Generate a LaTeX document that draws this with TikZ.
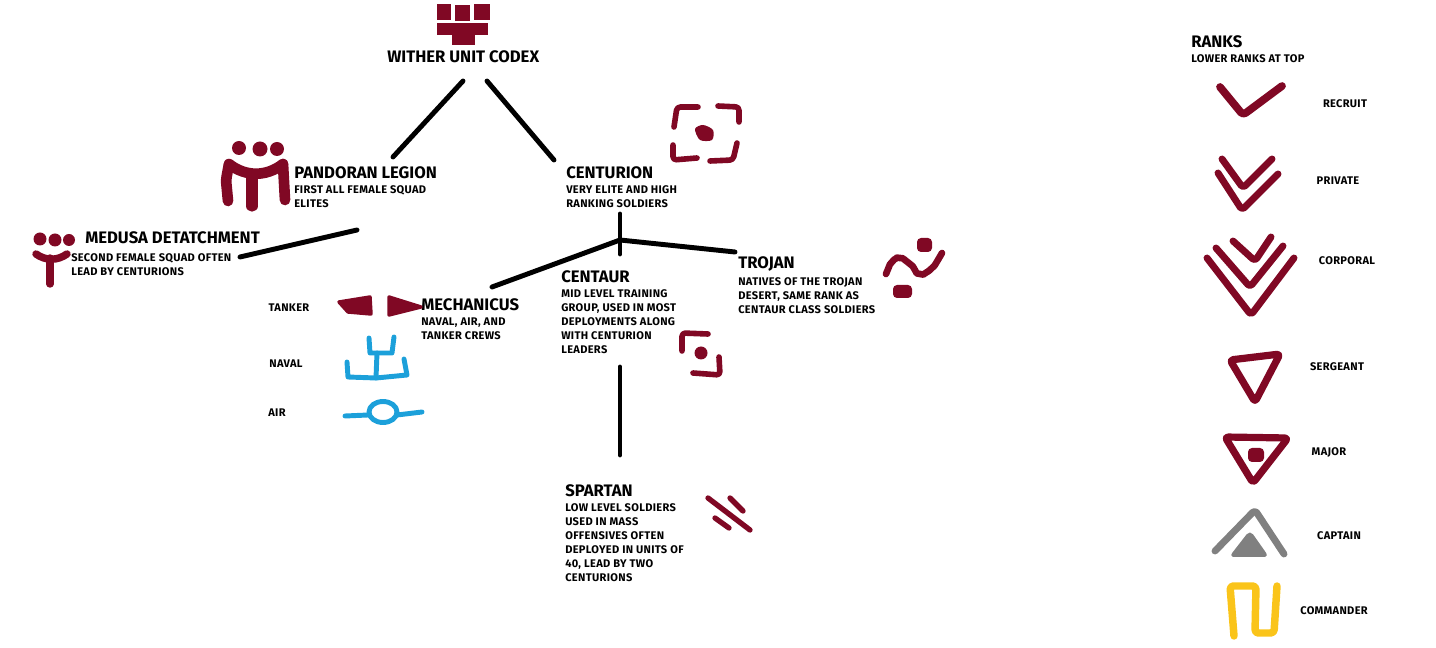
\documentclass[tikz,border=0pt]{standalone}
\usepackage{fontspec}
\setmainfont{Fira Sans}
\newfontfamily\smallfont[LetterSpace=3.0]{Fira Sans}
\usepackage{tikz}
\usetikzlibrary{positioning,calc}
\definecolor{WitherRed}{RGB}{128,8,36}
\definecolor{CrewBlue}{RGB}{28,160,218}
\definecolor{CaptainGray}{RGB}{128,128,128}
\definecolor{CommanderGold}{RGB}{250,196,26}
\tikzset{
	head/.style={inner sep=0pt,anchor=west,yshift=-0.75pt,font=\bfseries\fontsize{12.5}{15}\selectfont},
	desc/.style={inner sep=0pt,align=left,font=\smallfont\bfseries\fontsize{8.3}{10.5}\selectfont},
	rank/.style={inner sep=0pt,yshift=-0.75pt,font=\smallfont\bfseries\fontsize{8.3}{10.5}\selectfont},
	link/.style={draw=black,line width=3.7pt,line cap=round},
	mark/.style={draw=WitherRed,line width=#1,line cap=round,line join=round,rounded corners=2.5pt},
	mark/.default=3.6pt,
	crew/.style={draw=CrewBlue,line width=3.7pt,line cap=round,line join=round},
	blob/.style={fill=WitherRed,draw=WitherRed,line join=round,line width=2.6pt},
}
\begin{document}
\begin{tikzpicture}[x=0.75pt,y=-0.75pt]
	\useasboundingbox (0,0) rectangle (1436,648);
	\foreach \a/\b/\c/\d in {437/4/451/20,455/5/470/21,474/4/490/20,437/23/488/35,452/35/475/45}
	\fill[WitherRed] (\a,\b) rectangle (\c,\d);
	\node[head] (codex) at (387,56) {WITHER UNIT CODEX};
	\node[head] (pandoran) at (294,172) {PANDORAN LEGION};
	\node[desc,below=4.6pt of pandoran.south west,anchor=north west] (pandorantext) {FIRST ALL FEMALE SQUAD\\ELITES};
	\node[head] (medusa) at (85,237) {MEDUSA DETATCHMENT};
	\node[desc,anchor=north west] (medusatext) at (71,253.5) {SECOND FEMALE SQUAD OFTEN\\LEAD BY CENTURIONS};
	\node[head] (centurion) at (566,172) {CENTURION};
	\node[desc,below=4.6pt of centurion.south west,anchor=north west] (centuriontext) {VERY ELITE AND HIGH\\RANKING SOLDIERS};
	\node[head] (centaur) at (561,276) {CENTAUR};
	\node[desc,below=4.6pt of centaur.south west,anchor=north west] (centaurtext) {MID LEVEL TRAINING\\GROUP, USED IN MOST\\DEPLOYMENTS ALONG\\WITH CENTURION\\LEADERS};
	\node[head] (trojan) at (738,263) {TROJAN};
	\node[desc,below=4.6pt of trojan.south west,anchor=north west] (trojantext) {NATIVES OF THE TROJAN\\DESERT, SAME RANK AS\\CENTAUR CLASS SOLDIERS};
	\node[head] (mechanicus) at (421,304) {MECHANICUS};
	\node[desc,below=4.6pt of mechanicus.south west,anchor=north west] (mechanicustext) {NAVAL, AIR, AND\\TANKER CREWS};
	\node[head] (spartan) at (565,490) {SPARTAN};
	\node[desc,below=4.6pt of spartan.south west,anchor=north west] (spartantext) {LOW LEVEL SOLDIERS\\USED IN MASS\\OFFENSIVES OFTEN\\DEPLOYED IN UNITS OF\\40, LEAD BY TWO\\CENTURIONS};
	\node[head] (ranks) at (1191,41) {RANKS};
	\node[desc,below=4.6pt of ranks.south west,anchor=north west] (rankstext) {LOWER RANKS AT TOP};
	\foreach \n/\x/\y/\t in {tanker/289/307/TANKER,naval/286/363/NAVAL,air/277/412/AIR,recruit/1345/103/RECRUIT,private/1338/180/PRIVATE,corporal/1347/260/CORPORAL,sergeant/1337/366/SERGEANT,major/1329/452/MAJOR,captain/1339/535/CAPTAIN,commander/1334/610/COMMANDER}
	\node[rank] (\n) at (\x,\y) {\t};
	\coordinate (c1) at (463,81);
	\coordinate (c2) at (393,157);
	\coordinate (c3) at (487,81);
	\coordinate (c4) at (554,160);
	\coordinate (c5) at (240,257);
	\coordinate (c6) at (357,230);
	\coordinate (c7) at (620,214);
	\coordinate (c8) at (620,254);
	\coordinate (c9) at (620,240);
	\coordinate (c10) at (492,287);
	\coordinate (c11) at (735,252);
	\coordinate (c12) at (620,367);
	\coordinate (c13) at (620,455);
	\foreach \a/\b in {c1/c2,c3/c4,c5/c6,c7/c8,c9/c10,c9/c11,c12/c13}
	\draw[link] (\a)--(\b);
	\foreach \x/\y/\r in {239/148/7,260/149/7.5,277/149/7,40/239/6.5,55/240/6.5,69/240/6}
	\fill[WitherRed] (\x,\y) circle[radius=\r];
	\draw[mark=8pt] (229,164) to[bend right=38] (283,164);
	\draw[mark=8pt] (229,164)--(226,180)--(228,201);
	\draw[mark=8pt] (283,164)--(285,200);
	\draw[mark=8.5pt] (252,177)--(252,206);
	\draw[mark=5.6pt] (36,254) to[bend right=35] (67,254);
	\draw[mark=5.6pt] (50,258)--(50,284);
	\draw[mark=4.2pt] (698,107)--(677,107)--(674,127);
	\draw[mark=4.2pt] (718,106)--(739,107)--(739,122);
	\draw[mark=4.2pt] (673,145)--(673,160)--(697,158);
	\draw[mark=4.2pt] (710,161)--(733,160)--(737,143);
	\fill[WitherRed] plot[smooth cycle] coordinates {(695,129) (703,125) (713,130) (712,140) (700,140)};
	\draw[mark=4.2pt] (708,334)--(682,333)--(682,351);
	\draw[mark=4.2pt] (693,373)--(720,375)--(719,357);
	\fill[WitherRed] (701,353) circle[radius=6.5];
	\draw[mark=5pt] plot[smooth] coordinates {(886,274) (892,262) (900,258) (910,264) (920,274) (932,268) (942,253)};
	\fill[WitherRed,rounded corners=3pt] (917,238) rectangle (932,252);
	\fill[WitherRed,rounded corners=3pt] (893,285) rectangle (912,298);
	\draw[mark=4pt] (708,498)--(750,530);
	\draw[mark=4pt] (730,498)--(743,511);
	\draw[mark=4pt] (715,518)--(729,528);
	\draw[blob] (339,302)--(370,297)--(371,314)--(348,312)--cycle;
	\draw[blob] (389,297)--(421,307)--(389,315)--cycle;
	\draw[crew] (369,338)--(370,353)--(392,353)--(394,337);
	\draw[crew] (377,353)--(376,378);
	\draw[crew] (347,362)--(348,377)--(376,378)--(407,375)--(404,359);
	\draw[crew] (345,416)--(368,415);
	\draw[crew] (383,412) ellipse[x radius=14,y radius=10.5];
	\draw[crew] (397,415)--(422,412);
	\draw[mark=5.8pt] (1220,87)--(1243,115)--(1282,86);
	\draw[mark=5.2pt] (1222,159)--(1243,188)--(1272,159);
	\draw[mark=5.2pt] (1218,173)--(1242,210)--(1278,174);
	\draw[mark=5.2pt] (1233,241)--(1255,261)--(1271,237);
	\draw[mark=5.2pt] (1216,248)--(1250,287)--(1283,246);
	\draw[mark=5.2pt] (1207,258)--(1251,315)--(1294,258);
	\draw[mark=5.4pt] (1230,360)--(1280,354)--(1255,402)--cycle;
	\draw[mark=5.4pt] (1225,437)--(1288,438)--(1253,483)--cycle;
	\fill[WitherRed,rounded corners=3pt] (1248,448) rectangle (1264,462);
	\draw[line width=5.2pt,CaptainGray,line cap=round,line join=round,rounded corners=2.5pt] (1215,551)--(1255,510)--(1284,554);
	\fill[CaptainGray,rounded corners=4pt] (1229,557)--(1250,530)--(1269,557)--cycle;
	\draw[line width=5.6pt,CommanderGold,line cap=round,line join=round,rounded corners=2.5pt] (1234,636)--(1230,586)--(1256,586)--(1255,633)--(1274,633)--(1277,586);
\end{tikzpicture}
\end{document}
